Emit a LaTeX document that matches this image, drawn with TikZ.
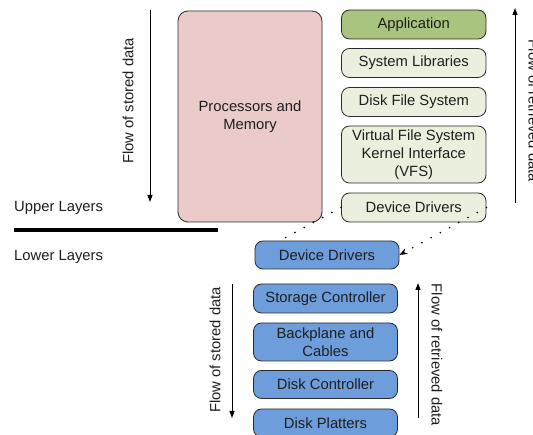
\documentclass[tikz,border=0pt]{standalone}
\usepackage{fontspec}
\setmainfont{Liberation Sans}
\usetikzlibrary{arrows.meta}
\definecolor{pinkfill}{HTML}{EACBCA}
\definecolor{appgreen}{HTML}{A9C47F}
\definecolor{lightgreen}{HTML}{EBF0DE}
\definecolor{bluefill}{HTML}{6D9EDB}
\definecolor{textcol}{HTML}{1E1E1E}
\definecolor{edgecol}{HTML}{2A2A2A}
\begin{document}
\begin{tikzpicture}[x=1pt,y=-1pt,
  txt/.style={inner sep=0pt, text=textcol, font=\fontsize{14.8}{18}\selectfont},
  box/.style={txt, draw=edgecol, line width=0.8pt, rounded corners=8pt, align=center},
  upbox/.style={box, fill=lightgreen, minimum width=144.5pt},
  lowbox/.style={box, fill=bluefill, minimum width=144pt},
  flow/.style={line width=1pt, -{Triangle[length=7pt,width=5pt]}},
  dotline/.style={line width=1.8pt, line cap=round, dash pattern=on 0pt off 10.5pt},
]
\useasboundingbox (0,0) rectangle (533,435);
\clip (0,0) rectangle (533,435);

% processors box
\node[box, fill=pinkfill, rounded corners=10pt, minimum width=144pt, minimum height=211pt] (proc) at (250,116.5) {Processors and\\Memory};

% upper stack
\node[upbox, fill=appgreen, minimum height=29pt] (app) at (413.75,24.5) {Application};
\node[upbox, minimum height=29pt] (syslib) at (413.75,63) {System Libraries};
\node[upbox, minimum height=29pt] (dfs) at (413.75,102) {Disk File System};
\node[upbox, minimum height=57pt] (vfs) at (413.75,154.5) {Virtual File System\\Kernel Interface\\(VFS)};
\node[upbox, minimum height=29pt] (updd) at (413.75,207.5) {Device Drivers};

% lower stack
\node[lowbox, minimum height=28pt] (lowdd) at (327,255) {Device Drivers};
\node[lowbox, minimum height=29pt] (sc) at (325.5,298.5) {Storage Controller};
\node[lowbox, minimum height=38pt] (bp) at (325.5,342) {Backplane and\\Cables};
\node[lowbox, minimum height=28pt] (dc) at (325.5,384.5) {Disk Controller};
\node[lowbox, minimum height=28pt] (dp) at (325.5,423) {Disk Platters};

% layer labels
\node[txt, anchor=base west] (upper) at (14,212) {Upper Layers};
\node[txt, anchor=base west] (lower) at (14,261) {Lower Layers};
\coordinate (sepA) at (14,230);
\coordinate (sepB) at (218,230);
\draw[line width=4pt] (sepA) -- (sepB);

% upper flow arrows
\coordinate (f1s) at (150,10);
\coordinate (f1e) at (150,202);
\draw[flow] (f1s) -- (f1e);
\node[txt, rotate=90] (f1t) at (128,101) {Flow of stored data};

\coordinate (f2s) at (515,203);
\coordinate (f2e) at (515,8);
\draw[flow] (f2s) -- (f2e);
\node[txt, rotate=-90] (f2t) at (534,111) {Flow of retrieved data};

% lower flow arrows
\coordinate (f3s) at (232,284);
\coordinate (f3e) at (232,418);
\draw[flow] (f3s) -- (f3e);
\node[txt, rotate=90] (f3t) at (215,350) {Flow of stored data};

\coordinate (f4s) at (418,418);
\coordinate (f4e) at (418,283);
\draw[flow] (f4s) -- (f4e);
\node[txt, rotate=-90] (f4t) at (437,355) {Flow of retrieved data};

% dotted connectors
\draw[dotline] (updd.west) -- (lowdd.163);
\draw[dotline, -{Stealth[length=8pt,width=6pt,line width=0.4pt]}] (updd.east) -- (lowdd.east);
\end{tikzpicture}
\end{document}
